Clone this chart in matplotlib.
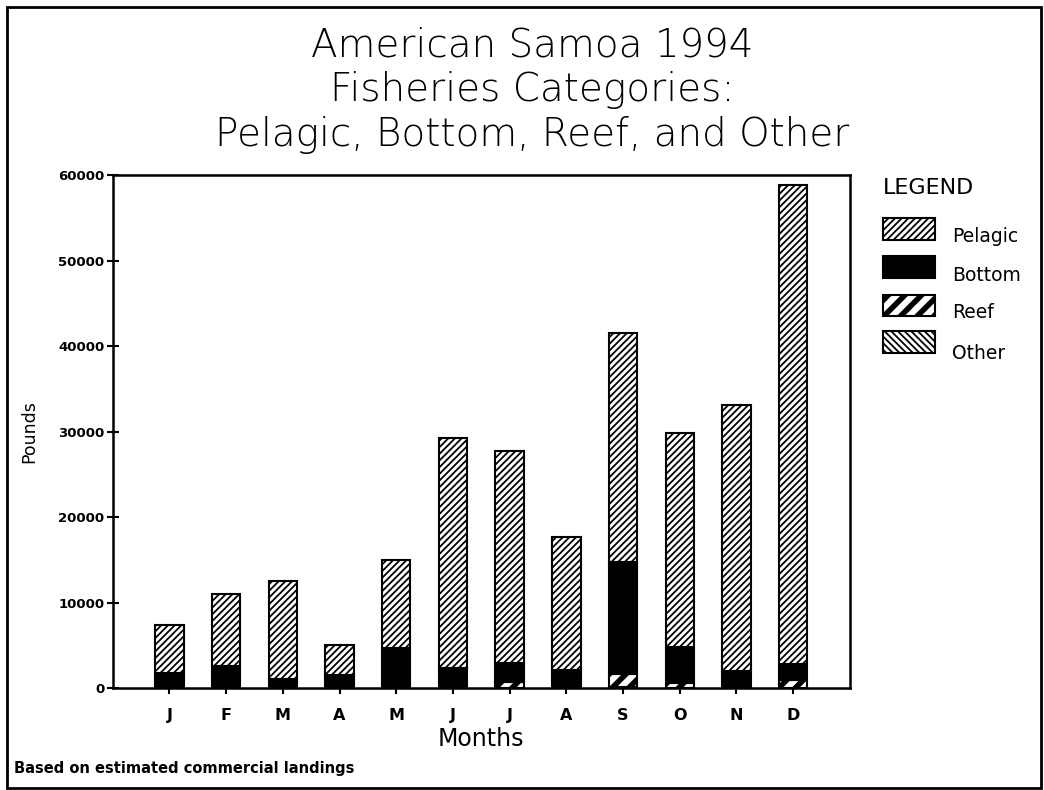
import matplotlib
matplotlib.use("Agg")
import matplotlib.pyplot as plt
from matplotlib.patches import Rectangle

# ---------------------------------------------------------------------
# Data (pounds)
# ---------------------------------------------------------------------
months = ["J", "F", "M", "A", "M", "J", "J", "A", "S", "O", "N", "D"]
other = [50, 50, 50, 50, 50, 50, 50, 50, 100, 50, 50, 50]
reef = [0, 0, 0, 0, 0, 0, 650, 0, 1600, 550, 0, 850]
bottom = [1700, 2500, 1000, 1450, 4600, 2300, 2200, 2050, 13000, 4200, 1950, 1900]
pelagic = [5650, 8450, 11450, 3600, 10350, 26950, 24900, 15600, 26800, 25100, 31100, 56100]

series = ["Other", "Reef", "Bottom", "Pelagic"]
legend_order = ["Pelagic", "Bottom", "Reef", "Other"]
hatches = {"Pelagic": "/////", "Bottom": None, "Reef": "//", "Other": "\\\\\\\\\\"}
values = {"Other": other, "Reef": reef, "Bottom": bottom, "Pelagic": pelagic}

plt.rcParams["hatch.linewidth"] = 1.3
plt.rcParams["font.family"] = "DejaVu Sans"


def thick_hatch(patch, name):
    # reef stripes are much heavier than the others
    if name == "Reef":
        try:
            patch.set_hatch_linewidth(4.0)
        except AttributeError:
            pass


fig = plt.figure(figsize=(10.44, 7.9), dpi=100)
ax = fig.add_axes([0.108, 0.129, 0.706, 0.649])

x = list(range(1, len(months) + 1))
base = [0] * len(months)
for name in series:
    vals = values[name]
    solid = hatches[name] is None
    bars = ax.bar(x, vals, width=0.5, bottom=base,
                  color="black" if solid else "white",
                  edgecolor="black", linewidth=1.5,
                  hatch=hatches[name], zorder=2)
    for b in bars:
        thick_hatch(b, name)
    base = [b + v for b, v in zip(base, vals)]

ax.set_xlim(0, 13)
ax.set_ylim(0, 60000)
ax.set_xticks(x)
ax.set_xticklabels(months, fontsize=11.5, fontweight="bold")
ax.set_yticks(range(0, 60001, 10000))
ax.set_yticklabels([str(v) for v in range(0, 60001, 10000)],
                   fontsize=9.5, fontweight="bold")
ax.tick_params(axis="y", direction="inout", length=8, width=1.5, pad=2)
ax.tick_params(axis="x", direction="out", length=4, width=1.5, pad=10)
for s in ax.spines.values():
    s.set_linewidth(1.8)

ax.set_xlabel("Months", fontsize=17, labelpad=3)
ax.set_ylabel("Pounds", fontsize=12.5, labelpad=14)

# Title
title_lines = ["American Samoa 1994", "Fisheries Categories:",
               "Pelagic, Bottom, Reef, and Other"]
for line, yy in zip(title_lines, [0.943, 0.886, 0.829]):
    fig.text(0.51, yy, line, ha="center", va="center", fontsize=28,
             fontweight="light")

# Legend drawn by hand
fig.text(0.846, 0.762, "LEGEND", ha="left", va="center", fontsize=16)
box_w, box_h = 0.050, 0.027
box_y = [0.710, 0.662, 0.613, 0.567]
text_y = [0.700, 0.651, 0.604, 0.553]
for name, yb, yt in zip(legend_order, box_y, text_y):
    solid = hatches[name] is None
    r = Rectangle((0.846, yb - box_h / 2), box_w, box_h,
                  transform=fig.transFigure,
                  facecolor="black" if solid else "white",
                  edgecolor="black", linewidth=1.5,
                  hatch=hatches[name])
    thick_hatch(r, name)
    fig.add_artist(r)
    fig.text(0.912, yt, name, ha="left", va="center", fontsize=13.5)

fig.text(0.013, 0.027, "Based on estimated commercial landings",
         ha="left", va="center", fontsize=10.5, fontweight="bold")

# frame around the whole picture
fig.add_artist(Rectangle((0.007, 0.003), 0.99, 0.988,
                         transform=fig.transFigure, fill=False,
                         edgecolor="black", linewidth=2))

fig.savefig("out.png", dpi=100)
